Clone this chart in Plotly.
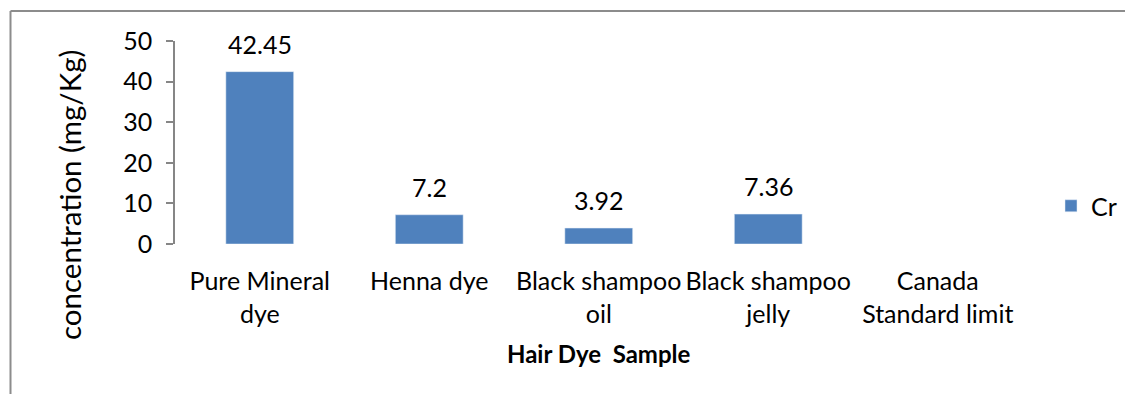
import plotly.graph_objects as go

# Chromium concentration per hair dye sample
categories = [
    "Pure Mineral<br>dye",
    "Henna dye",
    "Black shampoo<br>oil",
    "Black shampoo<br>jelly",
    "Canada<br>Standard limit",
]
cr_values = [42.45, 7.2, 3.92, 7.36, None]
value_labels = ["42.45", "7.2", "3.92", "7.36", ""]
y_ticks = [0, 10, 20, 30, 40, 50]

W, H = 1125, 394
FONT = "Lato, Carlito, Calibri, sans-serif"
BAR_COLOR = "#4F81BD"
AXIS_GRAY = "#868686"

fig = go.Figure()
fig.add_trace(go.Bar(
    x=categories,
    y=cr_values,
    name="Cr",
    marker=dict(color=BAR_COLOR),
    hoverinfo="x+y",
))

# value labels sitting above each bar
annotations = []
for cat, val, lab in zip(categories, cr_values, value_labels):
    if val is None:
        continue
    annotations.append(dict(
        x=cat, y=val, xref="x", yref="y", text=lab, showarrow=False,
        yanchor="bottom", yshift=11, font=dict(size=25, color="#000000", family=FONT),
    ))

# y-axis title
annotations.append(dict(
    x=69 / W, y=1 - 195 / H, xref="paper", yref="paper",
    xanchor="center", yanchor="middle",
    text="concentration (mg/Kg)", textangle=-90, showarrow=False,
    font=dict(size=29.5, color="#000000", family=FONT),
))
# x-axis title
annotations.append(dict(
    x=599 / W, y=1 - 353 / H, xref="paper", yref="paper",
    xanchor="center", yanchor="middle",
    text="<b>Hair Dye  Sample</b>", showarrow=False,
    font=dict(size=24, color="#000000", family=FONT),
))

# outer chart border (left and top edges)
shapes = [
    dict(type="line", xref="paper", yref="paper", x0=10.5 / W, x1=10.5 / W, y0=0, y1=1 - 11 / H,
         line=dict(color="#8c8c8c", width=2)),
    dict(type="line", xref="paper", yref="paper", x0=10.5 / W, x1=1, y0=1 - 11 / H, y1=1 - 11 / H,
         line=dict(color="#8c8c8c", width=2)),
]

fig.update_layout(
    width=W, height=H,
    margin=dict(l=0, r=0, t=0, b=0, autoexpand=False),
    paper_bgcolor="white",
    plot_bgcolor="white",
    font=dict(family=FONT, size=25, color="#000000"),
    bargap=0.6,
    showlegend=True,
    legend=dict(
        x=1051 / W, y=1 - 206 / H, xanchor="left", yanchor="middle",
        font=dict(size=25, family=FONT), itemwidth=30,
        bgcolor="rgba(0,0,0,0)",
    ),
    xaxis=dict(
        domain=[175 / W, 1022.5 / W],
        showline=False, showgrid=False, zeroline=False, ticks="",
        tickfont=dict(size=25, family=FONT),
        ticklabelstandoff=20, automargin=False,
    ),
    yaxis=dict(
        domain=[1 - 244 / H, 1 - 41 / H],
        range=[0, 50], tickvals=y_ticks,
        showline=True, linecolor=AXIS_GRAY, linewidth=1.5,
        ticks="outside", ticklen=7, tickcolor=AXIS_GRAY, tickwidth=1.5,
        showgrid=False, zeroline=False,
        tickfont=dict(size=25, family=FONT),
        ticklabelstandoff=9, automargin=False,
    ),
    annotations=annotations,
    shapes=shapes,
)

fig.write_html("out.html")
